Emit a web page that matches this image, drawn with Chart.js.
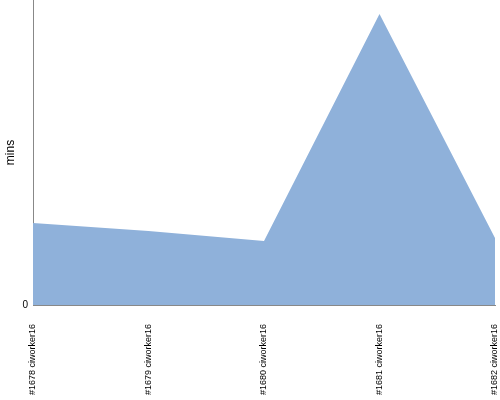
<!DOCTYPE html>
<html>
<head>
<meta charset="utf-8">
<script src="https://cdn.jsdelivr.net/npm/chart.js@4/dist/chart.umd.min.js"></script>
<style>
  html, body { margin: 0; padding: 0; background: #fff; }
  #wrap { width: 500px; height: 400px; position: relative; }
</style>
</head>
<body>
<div id="wrap"><canvas id="buildChart"></canvas></div>
<script>
const builds = ["#1678 ciworker16", "#1679 ciworker16", "#1680 ciworker16", "#1681 ciworker16", "#1682 ciworker16"];
const durations = [2.69, 2.43, 2.10, 9.54, 2.20];
const yMax = 10;
const yTicks = [0];

const ctx = document.getElementById('buildChart').getContext('2d');

new Chart(ctx, {
  type: 'line',
  data: {
    labels: builds,
    datasets: [{
      label: 'mins',
      data: durations,
      borderWidth: 0,
      borderColor: 'transparent',
      backgroundColor: '#8fb1da',
      fill: 'origin',
      pointRadius: 0,
      tension: 0
    }]
  },
  options: {
    responsive: true,
    maintainAspectRatio: false,
    animation: false,
    layout: { padding: 0 },
    plugins: {
      legend: { display: false },
      tooltip: { enabled: false }
    },
    scales: {
      x: {
        grid: { display: false, drawTicks: false },
        border: { color: '#888', width: 1 },
        offset: false,
        afterFit: scale => {
          scale.height = 95;
          scale.paddingLeft = 0;
          scale.paddingRight = 5;
        },
        ticks: {
          color: '#000',
          font: { family: 'Liberation Sans', size: 9 },
          minRotation: 90,
          maxRotation: 90,
          autoSkip: false,
          padding: 19
        }
      },
      y: {
        min: 0,
        max: yMax,
        grid: { display: false, drawTicks: false },
        border: { color: '#888', width: 1 },
        afterBuildTicks: scale => { scale.ticks = yTicks.map(v => ({ value: v })); },
        afterFit: scale => {
          scale.width = 33;
          scale.paddingTop = 0;
          scale.paddingBottom = 0;
        },
        ticks: {
          color: '#000',
          font: { family: 'Liberation Sans', size: 10 },
          padding: 5
        },
        title: {
          display: true,
          text: 'mins',
          color: '#000',
          font: { family: 'Liberation Sans', size: 12 },
          padding: 3
        }
      }
    }
  }
});
</script>
</body>
</html>
